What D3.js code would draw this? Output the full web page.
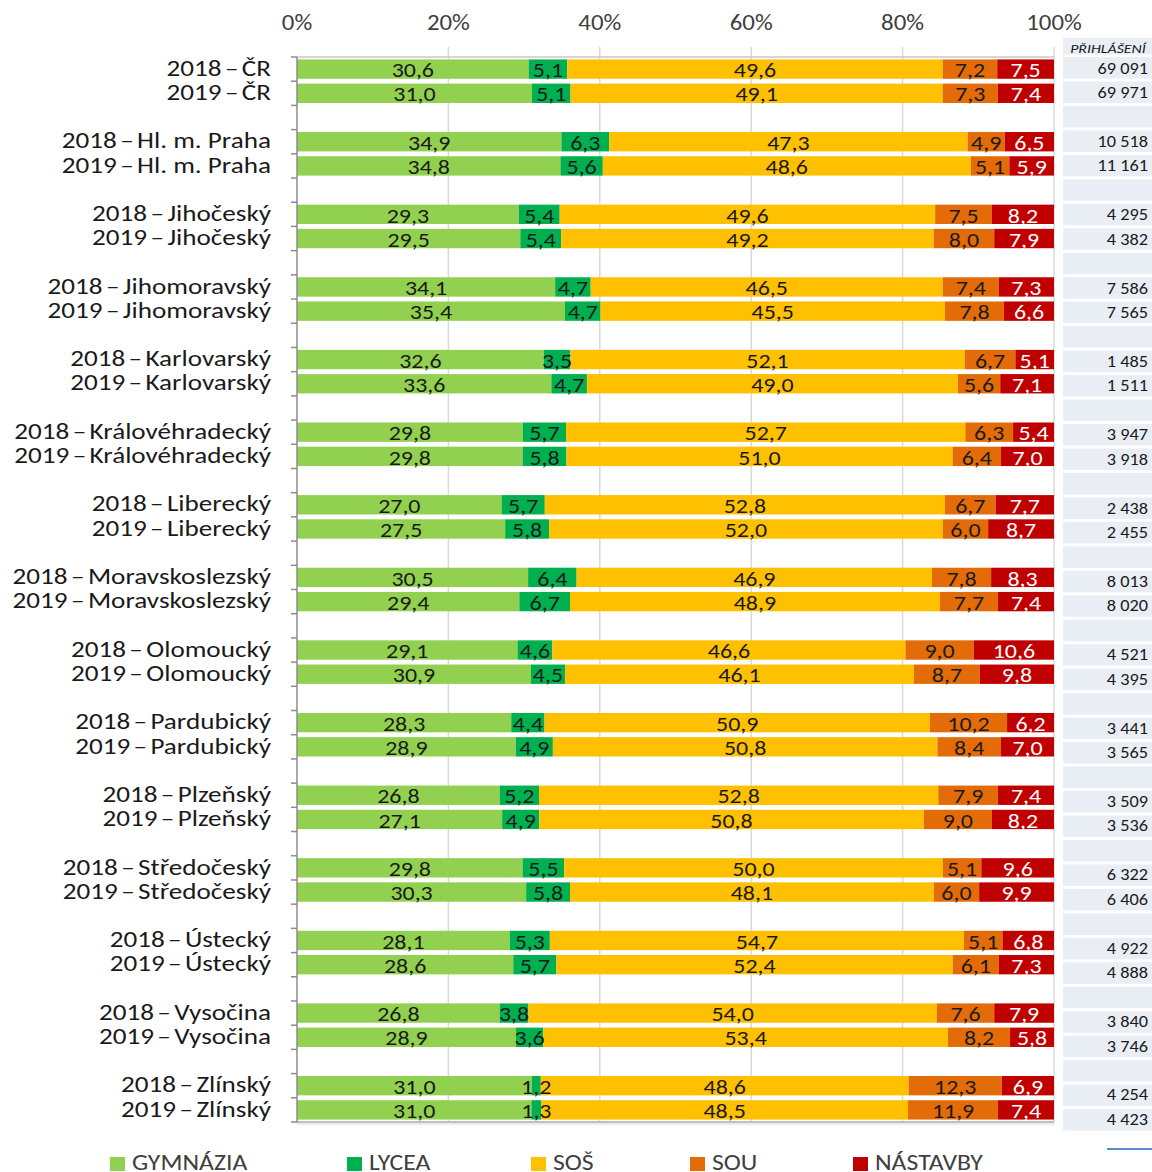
<!DOCTYPE html>
<html><head><meta charset="utf-8">
<script src="https://cdn.jsdelivr.net/npm/d3@7"></script>
<style>
html,body{margin:0;padding:0;background:#fff;}
svg{display:block;}
</style></head>
<body>
<svg id="chart" width="1152" height="1172"></svg>
<script>
const regions = ["ČR","Hl. m. Praha","Jihočeský","Jihomoravský","Karlovarský","Královéhradecký","Liberecký","Moravskoslezský","Olomoucký","Pardubický","Plzeňský","Středočeský","Ústecký","Vysočina","Zlínský"];
const years = ["2018","2019"];
const series = ["GYMNÁZIA","LYCEA","SOŠ","SOU","NÁSTAVBY"];
const colors = ["#92d050","#00b050","#ffc000","#e36c09","#c00000"];
const labelColors = ["#1a1a1a","#1a1a1a","#1a1a1a","#1a1a1a","#ffffff"];
const xTicks = [0,20,40,60,80,100];
// values [2018, 2019] per region; order GYMNÁZIA, LYCEA, SOŠ, SOU, NÁSTAVBY
const gymnazia = [[30.6,31.0],[34.9,34.8],[29.3,29.5],[34.1,35.4],[32.6,33.6],[29.8,29.8],[27.0,27.5],[30.5,29.4],[29.1,30.9],[28.3,28.9],[26.8,27.1],[29.8,30.3],[28.1,28.6],[26.8,28.9],[31.0,31.0]];
const lycea    = [[5.1,5.1],[6.3,5.6],[5.4,5.4],[4.7,4.7],[3.5,4.7],[5.7,5.8],[5.7,5.8],[6.4,6.7],[4.6,4.5],[4.4,4.9],[5.2,4.9],[5.5,5.8],[5.3,5.7],[3.8,3.6],[1.2,1.3]];
const sos      = [[49.6,49.1],[47.3,48.6],[49.6,49.2],[46.5,45.5],[52.1,49.0],[52.7,51.0],[52.8,52.0],[46.9,48.9],[46.6,46.1],[50.9,50.8],[52.8,50.8],[50.0,48.1],[54.7,52.4],[54.0,53.4],[48.6,48.5]];
const sou      = [[7.2,7.3],[4.9,5.1],[7.5,8.0],[7.4,7.8],[6.7,5.6],[6.3,6.4],[6.7,6.0],[7.8,7.7],[9.0,8.7],[10.2,8.4],[7.9,9.0],[5.1,6.0],[5.1,6.1],[7.6,8.2],[12.3,11.9]];
const nastavby = [[7.5,7.4],[6.5,5.9],[8.2,7.9],[7.3,6.6],[5.1,7.1],[5.4,7.0],[7.7,8.7],[8.3,7.4],[10.6,9.8],[6.2,7.0],[7.4,8.2],[9.6,9.9],[6.8,7.3],[7.9,5.8],[6.9,7.4]];
const prihlaseni = [[69091,69971],[10518,11161],[4295,4382],[7586,7565],[1485,1511],[3947,3918],[2438,2455],[8013,8020],[4521,4395],[3441,3565],[3509,3536],[6322,6406],[4922,4888],[3840,3746],[4254,4423]];
const tableHeader = "PŘIHLÁŠENÍ";

const allSeries = [gymnazia, lycea, sos, sou, nastavby];
const FONT = "Carlito, Calibri, Lato, sans-serif";

// place text at (fx, fy) with horizontal stretch sx
function place(sel, fx, fy, sx) {
  sel.attr("x", 0).attr("y", 0)
     .attr("transform", (d, i) => `translate(${fx(d, i)},${fy(d, i)}) scale(${sx},1)`);
  return sel;
}

const rows = [];
regions.forEach((r, i) => {
  years.forEach((y, j) => {
    const vals = allSeries.map(s => s[i][j]);
    rows.push({id: `${i}-${y}`, label: `${y}\u200A–\u200A${r}`, vals, count: prihlaseni[i][j], bar: true});
  });
  if (i < regions.length - 1) rows.push({id: `${i}-gap`, bar: false});
});

const svg = d3.select("#chart");
const x = d3.scaleLinear().domain([0, 100]).range([297, 1054]);
const y = d3.scaleBand().domain(rows.map(d => d.id)).range([57, 1122]).paddingInner(0.2).paddingOuter(0.1);
const step = y.step();

// gridlines
svg.append("g").selectAll("line").data(xTicks.filter(t => t > 0)).join("line")
  .attr("x1", d => x(d)).attr("x2", d => x(d)).attr("y1", 47).attr("y2", 1122)
  .attr("stroke", "#d9d9d9").attr("stroke-width", 1.5);
svg.append("line").attr("x1", x(0)).attr("x2", x(100)).attr("y1", 57).attr("y2", 57).attr("stroke", "#c8c8c8").attr("stroke-width", 1.5);

// top axis labels
const xAxis = d3.axisTop(x).tickValues(xTicks).tickFormat(d => d + "%").tickSize(0).tickPadding(0);
const gx = svg.append("g").call(xAxis);
gx.select(".domain").remove();
gx.selectAll(".tick").attr("transform", null);
const tickTexts = gx.selectAll("text").attr("font-family", FONT).attr("font-size", 22).attr("fill", "#404040").attr("dy", 0).attr("text-anchor", "middle");
place(tickTexts, d => x(d), () => 30, 1.13);

// bars
const barRows = rows.filter(d => d.bar);
const segs = [];
barRows.forEach(r => {
  const total = d3.sum(r.vals);
  let acc = 0;
  r.vals.forEach((v, k) => {
    const x0 = acc / total * 100; acc += v; const x1 = acc / total * 100;
    segs.push({row: r, k, v, x0, x1});
  });
});
svg.append("g").selectAll("rect").data(segs).join("rect")
  .attr("x", d => x(d.x0)).attr("width", d => x(d.x1) - x(d.x0))
  .attr("y", d => y(d.row.id)).attr("height", y.bandwidth())
  .attr("fill", d => colors[d.k]);
const valTexts = svg.append("g").selectAll("text").data(segs).join("text")
  .attr("text-anchor", "middle")
  .attr("font-family", FONT).attr("font-size", 21)
  .attr("fill", d => labelColors[d.k])
  .text(d => d3.format(".1f")(d.v).replace(".", ","));
place(valTexts, d => (x(d.x0) + x(d.x1)) / 2, d => y(d.row.id) + y.bandwidth() - 1.5, 1.14);

// bottom line
svg.append("line").attr("x1", x(0)).attr("x2", x(100)).attr("y1", 1122).attr("y2", 1122).attr("stroke", "#bfbfbf").attr("stroke-width", 2);
svg.append("line").attr("x1", x(0)).attr("x2", x(100)).attr("y1", 1124).attr("y2", 1124).attr("stroke", "#e6e6e6").attr("stroke-width", 1.5);
// left axis
svg.append("line").attr("x1", x(0)).attr("x2", x(0)).attr("y1", 57).attr("y2", 1122).attr("stroke", "#8c8c8c").attr("stroke-width", 1.5);
const tickYs = d3.range(rows.length + 1).map(i => 57 + i * step);
svg.append("g").selectAll("line").data(tickYs).join("line")
  .attr("x1", x(0) - 6).attr("x2", x(0)).attr("y1", d => d).attr("y2", d => d)
  .attr("stroke", "#8c8c8c").attr("stroke-width", 1.5);

// category labels
const catTexts = svg.append("g").selectAll("text").data(barRows).join("text")
  .attr("text-anchor", "end")
  .attr("font-family", FONT).attr("font-size", 23).attr("fill", "#1a1a1a")
  .text(d => d.label);
place(catTexts, () => 271, d => y(d.id) + y.bandwidth() - 3, 1.18);

// right table
const ty = d3.scaleBand().domain(rows.map(d => d.id)).range([57, 57 + rows.length * 24.4]).paddingInner(0.12).paddingOuter(0);
const tyText = d3.scaleBand().domain(rows.map(d => d.id)).range([57, 57 + rows.length * 24.45]);
svg.append("rect").attr("x", 1063).attr("y", 38).attr("width", 89).attr("height", 16.5).attr("fill", "#e9edf4");
const hdr = svg.append("text").datum(tableHeader).attr("text-anchor", "middle")
  .attr("font-family", FONT).attr("font-size", 13).attr("font-style", "italic").attr("fill", "#1a1a1a").text(d => d);
place(hdr, () => 1108, () => 52.5, 1.22);
svg.append("g").selectAll("rect").data(rows).join("rect")
  .attr("x", 1063).attr("width", 89).attr("y", d => ty(d.id)).attr("height", ty.bandwidth())
  .attr("fill", "#e9edf4");
const fmt = v => d3.format(",")(v).replace(/,/g, " ");
const numTexts = svg.append("g").selectAll("text").data(barRows).join("text")
  .attr("text-anchor", "end")
  .attr("font-family", FONT).attr("font-size", 15.5).attr("fill", "#1a1a1a")
  .text(d => fmt(d.count));
place(numTexts, () => 1148, d => tyText(d.id) + 16.5, 1.18);
svg.append("line").attr("x1", 1107).attr("x2", 1152).attr("y1", 1149).attr("y2", 1149).attr("stroke", "#5a8ad0").attr("stroke-width", 2);

// legend
const legX = [110, 347, 531, 690, 853];
const leg = svg.append("g").selectAll("g").data(series).join("g")
  .attr("transform", (d, i) => `translate(${legX[i]},0)`);
leg.append("rect").attr("x", 0).attr("y", 1157).attr("width", 15).attr("height", 14).attr("fill", (d, i) => colors[i]);
const legTexts = leg.append("text")
  .attr("font-family", FONT).attr("font-size", 22).attr("fill", "#404040").text(d => d);
place(legTexts, () => 22, () => 1169.5, 1.17);
</script>
</body></html>
